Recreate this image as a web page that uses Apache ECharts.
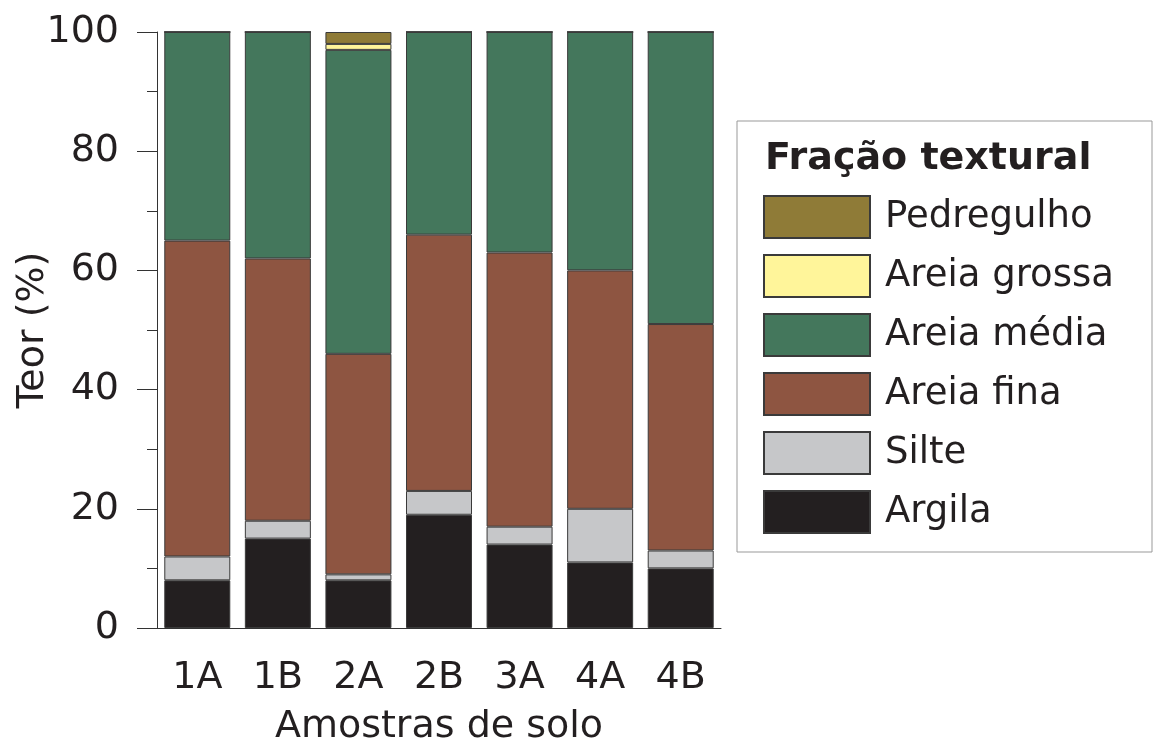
<!DOCTYPE html>
<html>
<head>
<meta charset="utf-8">
<script src="https://cdn.jsdelivr.net/npm/echarts@6/dist/echarts.min.js"></script>
</head>
<body style="margin:0;background:#fff">
<div id="main" style="width:1159px;height:745px"></div>
<script type="text/javascript">
    var amostras = ['1A', '1B', '2A', '2B', '3A', '4A', '4B'];
    // percentagens por fração (de baixo para cima)
    var argila = [8, 15, 8, 19, 14, 11, 10];
    var silte = [4, 3, 1, 4, 3, 9, 3];
    var areiaFina = [53, 44, 37, 43, 46, 40, 38];
    var areiaMedia = [35, 38, 51, 34, 37, 40, 49];
    var areiaGrossa = [0, 0, 1, 0, 0, 0, 0];
    var pedregulho = [0, 0, 2, 0, 0, 0, 0];

    var myChart = echarts.init(document.getElementById('main'));
    var fonte = 'DejaVu Sans, Verdana, sans-serif';

    function serie(nome, dados, cor) {
        return {
            name: nome,
            type: 'bar',
            stack: 'total',
            barWidth: 66,
            data: dados,
            itemStyle: {
                color: cor,
                borderColor: '#3a3a3a',
                borderWidth: 1
            }
        };
    }

    var option = {
        animation: false,
        backgroundColor: '#fff',
        textStyle: { fontFamily: fonte },
        grid: { left: 157, right: 438, top: 32, bottom: 117, containLabel: false, outerBoundsMode: 'none' },
        title: {
            text: 'Fração textural',
            left: 760,
            top: 135,
            textStyle: { fontFamily: fonte, fontSize: 38, fontWeight: 'bold', color: '#231f20' }
        },
        legend: {
            data: ['Pedregulho', 'Areia grossa', 'Areia média', 'Areia fina', 'Silte', 'Argila'],
            orient: 'vertical',
            left: 758,
            top: 190,
            itemWidth: 106,
            itemHeight: 42,
            itemGap: 15,
            icon: 'rect',
            textStyle: { fontFamily: fonte, fontSize: 37, lineHeight: 40, color: '#231f20', padding: [0, 0, 0, 10] }
        },
        graphic: [{
            type: 'rect',
            shape: { x: 737, y: 121, width: 415, height: 431 },
            style: { fill: 'none', stroke: '#999', lineWidth: 1 }
        }],
        xAxis: {
            type: 'category',
            data: amostras,
            name: 'Amostras de solo',
            nameLocation: 'middle',
            nameGap: 80,
            nameTextStyle: { fontSize: 38, color: '#231f20' },
            axisLine: { lineStyle: { color: '#333', width: 1 } },
            axisTick: { length: 10, lineStyle: { color: '#333' } },
            axisLabel: { fontSize: 38, color: '#231f20', margin: 31 }
        },
        yAxis: {
            type: 'value',
            min: 0,
            max: 100,
            interval: 20,
            name: 'Teor (%)',
            nameLocation: 'middle',
            nameGap: 105,
            nameMoveOverlap: false,
            nameTextStyle: { fontSize: 38, color: '#231f20' },
            axisLine: { show: true, lineStyle: { color: '#333', width: 1 } },
            axisTick: { show: true, length: 20, lineStyle: { color: '#333' } },
            minorTick: { show: true, splitNumber: 2, length: 10, lineStyle: { color: '#333' } },
            splitLine: { show: false },
            axisLabel: { fontSize: 38, color: '#231f20', margin: 38 }
        },
        series: [
            serie('Argila', argila, '#231f20'),
            serie('Silte', silte, '#c6c7c9'),
            serie('Areia fina', areiaFina, '#8e5541'),
            serie('Areia média', areiaMedia, '#44775c'),
            serie('Areia grossa', areiaGrossa, '#fff59a'),
            serie('Pedregulho', pedregulho, '#8f7b37')
        ]
    };
    myChart.setOption(option);
</script>
</body>
</html>
